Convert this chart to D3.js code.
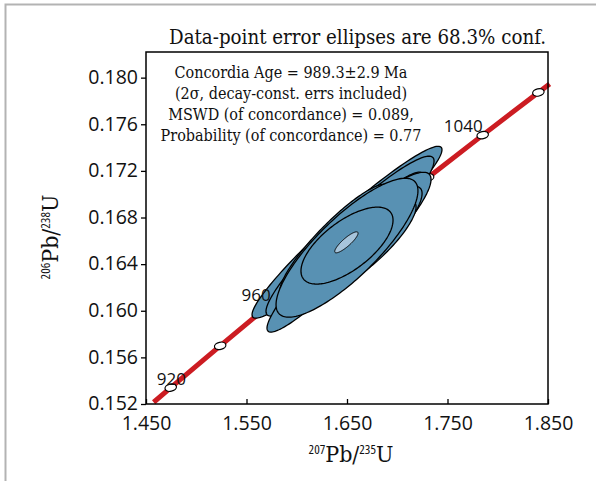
<!DOCTYPE html>
<html>
<head>
<meta charset="utf-8">
<script src="https://cdn.jsdelivr.net/npm/d3@7"></script>
<style>
  body { margin: 0; background: #fff; }
  .tick text { font-family: "Open Sans", sans-serif; font-size: 19.5px; fill: #111; }
  .slab { font-family: "DejaVu Serif Condensed", "DejaVu Serif", serif; font-stretch: condensed; fill: #111; }
</style>
</head>
<body>
<div id="chart"></div>
<script>
'use strict';

// concordia age markers (Ma) and their ratios
const concAge = [913, 920, 940, 960, 980, 1000, 1020, 1040, 1060, 1064];
const conc207 = [1.4576, 1.4746, 1.5238, 1.5740, 1.6252, 1.6774, 1.7307, 1.7850, 1.8404, 1.8516];
const conc206 = [0.15215, 0.15340, 0.15699, 0.16058, 0.16419, 0.16780, 0.17143, 0.17507, 0.17873, 0.17946];
const markerAges = [920, 940, 960, 980, 1000, 1020, 1040, 1060];
const labelAges = [920, 960, 1040];

// data-point error ellipses (207Pb/235U, 206Pb/238U, 1 sigma, rho)
const ell207 = [1.650, 1.653, 1.648, 1.659, 1.663, 1.638, 1.6709, 1.650, 1.650];
const ell206 = [0.16674, 0.16640, 0.16503, 0.16571, 0.16554, 0.16606, 0.16563, 0.16541, 0.16559];
const ellSx  = [0.0945, 0.0836, 0.0776, 0.0746, 0.0617, 0.0547, 0.0478, 0.0706, 0.0458];
const ellSy  = [0.00737, 0.00686, 0.00686, 0.00617, 0.00514, 0.00480, 0.00386, 0.00596, 0.00330];
const ellRho = [0.96, 0.94, 0.95, 0.90, 0.88, 0.90, 0.85, 0.82, 0.66];

// concordia age ellipse
const ageEll = { x: 1.6494, y: 0.16587, sx: 0.0116, sy: 0.0009, rho: 0.87 };

const xTicks = [1.45, 1.55, 1.65, 1.75, 1.85];
const yTicks = [0.152, 0.156, 0.160, 0.164, 0.168, 0.172, 0.176, 0.180];

const title = "Data-point error ellipses are 68.3% conf.";
const notes = [
    "Concordia Age = 989.3\u00b12.9 Ma",
    "(2\u03c3, decay-const. errs included)",
    "MSWD (of concordance) = 0.089,",
    "Probability (of concordance) = 0.77"
];

let width = 596;
let height = 481;
let margin = { top: 52, bottom: 77, left: 146, right: 48 };

const svg = d3.select("#chart")
    .append("svg")
    .attr("width", width)
    .attr("height", height);

// grey outer frame
svg.append("path")
    .attr("d", `M5.5,${height} V4.5 H${width}`)
    .attr("fill", "none")
    .attr("stroke", "#b3b3b3")
    .attr("stroke-width", 2);

const xScale = d3.scaleLinear()
    .domain([1.45, 1.85])
    .range([margin.left, width - margin.right]);

const yScale = d3.scaleLinear()
    .domain([0.152, 0.1822])
    .range([height - margin.bottom, margin.top]);

// concordia curve
const line = d3.line()
    .x((d, i) => xScale(conc207[i]))
    .y((d, i) => yScale(conc206[i]))
    .curve(d3.curveMonotoneX);

svg.append("path")
    .datum(concAge)
    .attr("d", line)
    .attr("fill", "none")
    .attr("stroke", "#cc1c22")
    .attr("stroke-width", 5);

const mx = d => xScale(conc207[concAge.indexOf(d)]);
const my = d => yScale(conc206[concAge.indexOf(d)]);

svg.selectAll("ellipse.marker")
    .data(markerAges)
    .join("ellipse")
    .attr("class", "marker")
    .attr("cx", mx)
    .attr("cy", my)
    .attr("rx", 5.8)
    .attr("ry", 3.6)
    .attr("transform", d => `rotate(-12, ${mx(d)}, ${my(d)})`)
    .attr("fill", "#fff")
    .attr("stroke", "#000")
    .attr("stroke-width", 1.2);

// ellipse outline in data space
function ellipsePath(cx, cy, sx, sy, rho) {
    const pts = d3.range(0, 2 * Math.PI, Math.PI / 90).map(t => [
        xScale(cx + sx * Math.cos(t)),
        yScale(cy + sy * (rho * Math.cos(t) + Math.sqrt(1 - rho * rho) * Math.sin(t)))
    ]);
    return d3.line().curve(d3.curveLinearClosed)(pts);
}

svg.selectAll("path.ell")
    .data(ell207)
    .join("path")
    .attr("class", "ell")
    .attr("d", (d, i) => ellipsePath(ell207[i], ell206[i], ellSx[i], ellSy[i], ellRho[i]))
    .attr("fill", "#5891b3")
    .attr("stroke", "#000")
    .attr("stroke-width", 1.3);

svg.append("path")
    .attr("d", ellipsePath(ageEll.x, ageEll.y, ageEll.sx, ageEll.sy, ageEll.rho))
    .attr("fill", "#a7c5dc")
    .attr("stroke", "#000")
    .attr("stroke-width", 1);

// age labels
svg.selectAll("text.age")
    .data(labelAges)
    .join("text")
    .attr("class", "age")
    .attr("x", d => Math.max(mx(d), margin.left + 40))
    .attr("y", d => my(d) - 3)
    .attr("text-anchor", "end")
    .attr("font-family", "Open Sans, sans-serif")
    .attr("font-size", 17)
    .attr("fill", "#111")
    .text(d => d);

// plot frame
svg.append("rect")
    .attr("x", margin.left)
    .attr("y", margin.top)
    .attr("width", width - margin.left - margin.right)
    .attr("height", height - margin.top - margin.bottom)
    .attr("fill", "none")
    .attr("stroke", "#000")
    .attr("stroke-width", 1.5);

const xAxis = d3.axisBottom(xScale)
    .tickValues(xTicks)
    .tickFormat(d3.format(".3f"))
    .tickSizeInner(-5)
    .tickSizeOuter(0)
    .tickPadding(12);

const yAxis = d3.axisLeft(yScale)
    .tickValues(yTicks)
    .tickFormat(d3.format(".3f"))
    .tickSizeInner(5)
    .tickSizeOuter(0)
    .tickPadding(3);

const gx = svg.append("g")
    .attr("class", "axis x-axis")
    .attr("transform", `translate(0, ${height - margin.bottom})`)
    .call(xAxis);
gx.select(".domain").remove();
gx.selectAll(".tick line").attr("stroke-width", 1.3);

const gy = svg.append("g")
    .attr("class", "axis y-axis")
    .attr("transform", `translate(${margin.left},0)`)
    .call(yAxis);
gy.select(".domain").remove();
gy.selectAll(".tick line").attr("stroke-width", 1.3);
gy.selectAll(".tick text").attr("dy", "0.3em");

// title
svg.append("text")
    .attr("class", "slab")
    .attr("x", 546)
    .attr("y", 44)
    .attr("text-anchor", "end")
    .attr("font-size", 20.3)
    .text(title);

// concordia annotation
svg.selectAll("text.note")
    .data(notes)
    .join("text")
    .attr("class", "slab note")
    .attr("x", 291)
    .attr("y", (d, i) => 78 + i * 21.1)
    .attr("text-anchor", "middle")
    .attr("font-size", 16)
    .text(d => d);

// axis titles
function ratioTitle(sel, top, bottom) {
    sel.append("tspan").attr("font-size", 13).attr("dy", -8).attr("font-family", "Open Sans, sans-serif").text(top);
    sel.append("tspan").attr("dy", 8).text("Pb/");
    sel.append("tspan").attr("font-size", 13).attr("dy", -8).attr("font-family", "Open Sans, sans-serif").text(bottom);
    sel.append("tspan").attr("dy", 8).text("U");
}

svg.append("text")
    .attr("class", "slab")
    .attr("x", 351)
    .attr("y", 462)
    .attr("text-anchor", "middle")
    .attr("font-size", 23)
    .call(ratioTitle, "207", "235");

svg.append("text")
    .attr("class", "slab")
    .attr("transform", "translate(58, 237) rotate(-90)")
    .attr("text-anchor", "middle")
    .attr("font-size", 23)
    .call(ratioTitle, "206", "238");
</script>
</body>
</html>
